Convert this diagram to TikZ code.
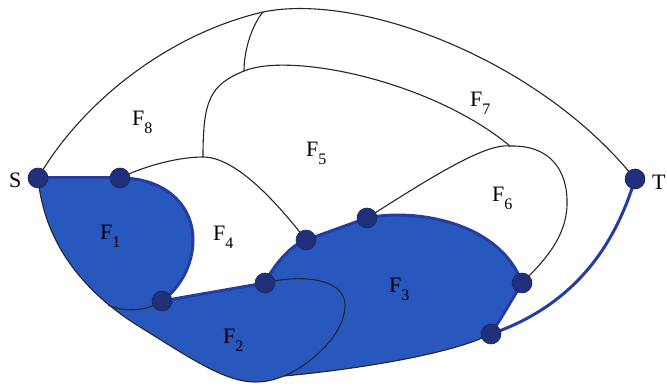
\documentclass[tikz,border=0pt]{standalone}
\usepackage{fontspec}
\setmainfont{Liberation Serif}
\usetikzlibrary{backgrounds}
\definecolor{faceblue}{RGB}{40,88,190}
\definecolor{edgeblue}{RGB}{38,60,160}
\definecolor{vertexnavy}{RGB}{32,48,122}
\newcommand{\face}[1]{F\raisebox{-8pt}{\fontsize{16}{16}\selectfont #1}}

\begin{document}
\begin{tikzpicture}[x=1pt, y=-1pt,
    myvertex/.style={circle, fill=vertexnavy, draw=vertexnavy!80!black, line width=0.6pt, minimum size=20pt, inner sep=0pt},
    mythin/.style={line width=1.1pt, black!85},
    mythick/.style={line width=3pt, edgeblue},
    mylabel/.style={anchor=base west, inner sep=0pt, font=\fontsize{22}{24}\selectfont},
]
\useasboundingbox (0,0) rectangle (667,387);

\node[myvertex] (s) at (38,178) {};
\node[myvertex] (v1) at (120,178) {};
\node[myvertex] (v2) at (162,301) {};
\node[myvertex] (v3) at (265,283) {};
\node[myvertex] (v4) at (306,240) {};
\node[myvertex] (v5) at (367,218) {};
\node[myvertex] (v6) at (522,283) {};
\node[myvertex] (v7) at (491,334) {};
\node[myvertex] (t) at (635,179) {};

\coordinate (j1) at (263,12);
\coordinate (j2) at (244,71);
\coordinate (j3) at (203,157);
\coordinate (j4) at (510,146);
\coordinate (p) at (255,382);
\coordinate (q) at (284,376);
\coordinate (r) at (108,305);

\begin{pgfonlayer}{background}
\fill[faceblue] (s.center) -- (v1.center)
    .. controls (165,178) and (193,205) .. (193,240)
    .. controls (193,265) and (180,288) .. (v2.center)
    -- (v3.center) .. controls (272,268) and (290,245) .. (v4.center)
    -- (v5.center) .. controls (415,208) and (500,222) .. (v6.center)
    .. controls (512,300) and (500,320) .. (v7.center)
    .. controls (450,355) and (350,370) .. (q)
    .. controls (276,379) and (268,382) .. (p)
    .. controls (225,382) and (190,358) .. (140,327)
    .. controls (80,290) and (44,240) .. (s.center) -- cycle;

\draw[mythin] (s.center) .. controls (80,105) and (165,35) .. (j1)
    .. controls (360,-8) and (540,60) .. (t.center);
\draw[mythin] (j1) .. controls (252,25) and (244,50) .. (j2);
\draw[mythin] (j2) .. controls (290,52) and (430,80) .. (j4);
\draw[mythin] (j2) .. controls (210,85) and (203,100) .. (j3);
\draw[mythin] (v1.center) .. controls (140,168) and (175,157) .. (j3);
\draw[mythin] (j3) .. controls (235,157) and (275,200) .. (v4.center);
\draw[mythin] (v5.center) .. controls (430,178) and (485,143) .. (j4);
\draw[mythin] (j4) .. controls (550,145) and (568,170) .. (567,205)
    .. controls (566,240) and (540,265) .. (v6.center);
\draw[mythin] (s.center) .. controls (44,240) and (80,290) .. (140,327)
    .. controls (190,358) and (225,382) .. (p)
    .. controls (268,382) and (276,379) .. (q)
    .. controls (350,370) and (450,355) .. (v7.center);
\draw[mythin] (v2.center) .. controls (145,313) and (120,311) .. (r);
\draw[mythin] (v3.center) .. controls (300,274) and (345,278) .. (345,305)
    .. controls (345,335) and (310,365) .. (q);

\draw[mythick] (s.center) -- (v1.center);
\draw[mythick] (v1.center) .. controls (165,178) and (193,205) .. (193,240)
    .. controls (193,265) and (180,288) .. (v2.center);
\draw[mythick] (v2.center) -- (v3.center);
\draw[mythick] (v3.center) .. controls (272,268) and (290,245) .. (v4.center);
\draw[mythick] (v4.center) -- (v5.center);
\draw[mythick] (v5.center) .. controls (415,208) and (500,222) .. (v6.center);
\draw[mythick] (v6.center) .. controls (512,300) and (500,320) .. (v7.center);
\draw[mythick] (t.center) .. controls (615,245) and (575,305) .. (v7.center);
\end{pgfonlayer}

\node[mylabel] (ls) at (9,188) {S};
\node[mylabel] (lt) at (652,190) {T};
\node[mylabel] (f1) at (100,240) {\face{1}};
\node[mylabel] (f2) at (223,344) {\face{2}};
\node[mylabel] (f3) at (389,293) {\face{3}};
\node[mylabel] (f4) at (213,241) {\face{4}};
\node[mylabel] (f5) at (306,157) {\face{5}};
\node[mylabel] (f6) at (492,202) {\face{6}};
\node[mylabel] (f7) at (470,107) {\face{7}};
\node[mylabel] (f8) at (132,126) {\face{8}};
\end{tikzpicture}
\end{document}
